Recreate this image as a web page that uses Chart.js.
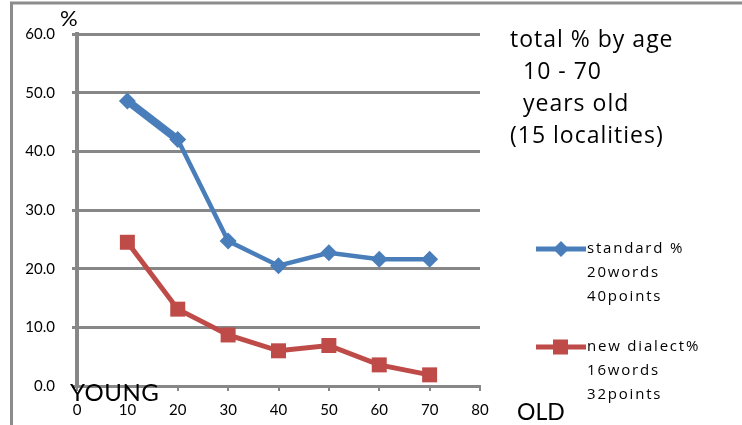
<!DOCTYPE html>
<html>
<head>
<meta charset="utf-8">
<script src="https://cdn.jsdelivr.net/npm/chart.js@4.4.1/dist/chart.umd.min.js"></script>
<style>
  html, body { margin: 0; padding: 0; background: #fff; }
  canvas { display: block; }
</style>
</head>
<body>
<canvas id="c" width="742" height="425"></canvas>
<script>
// Share of answers by speaker age
const ages = [10, 20, 30, 40, 50, 60, 70];
const standardPct = [48.6, 42.0, 24.7, 20.5, 22.7, 21.6, 21.6];
const newDialectPct = [24.5, 13.1, 8.7, 6.0, 6.9, 3.6, 1.9];
const yTickValues = [0, 10, 20, 30, 40, 50, 60];
const xTickValues = [0, 10, 20, 30, 40, 50, 60, 70, 80];
const titleLines = ['total % by age', ' 10 - 70', ' years old', '(15 localities)'];
const standardLegend = ['standard %', '20words', '40points'];
const dialectLegend = ['new dialect%', '16words', '32points'];

const BLUE = '#4a7ebb';
const RED = '#be4b48';
const GRID = '#878787';
const FONT = 'Lato, "Open Sans", sans-serif';
const WIDE = '"Open Sans", Lato, sans-serif';

const toPoints = (xs, ys) => xs.map((x, i) => ({ x: x, y: ys[i] }));

function diamond(ctx, x, y, r) {
  ctx.beginPath();
  ctx.moveTo(x, y - r);
  ctx.lineTo(x + r, y);
  ctx.lineTo(x, y + r);
  ctx.lineTo(x - r, y);
  ctx.closePath();
  ctx.fill();
}

function spaced(ctx, px) {
  if ('letterSpacing' in ctx) ctx.letterSpacing = px + 'px';
}

// Outer frame, side texts and legend
const decorations = {
  id: 'decorations',
  beforeDraw(chart) {
    const ctx = chart.ctx;
    ctx.save();
    ctx.fillStyle = '#fff';
    ctx.fillRect(0, 0, chart.width, chart.height);
    ctx.strokeStyle = '#8c8c8c';
    ctx.lineWidth = 3;
    ctx.beginPath();
    ctx.moveTo(11.5, 425);
    ctx.lineTo(11.5, 3);
    ctx.lineTo(742, 3);
    ctx.stroke();
    ctx.restore();
  },
  afterDraw(chart) {
    const ctx = chart.ctx;
    ctx.save();
    ctx.fillStyle = '#000';
    ctx.textBaseline = 'alphabetic';
    ctx.textAlign = 'left';

    // axis captions
    ctx.font = '22px ' + FONT;
    ctx.fillText('%', 60, 26);
    ctx.font = '24px ' + FONT;
    spaced(ctx, 0.5);
    ctx.fillText('YOUNG', 70, 401);
    spaced(ctx, 0);
    ctx.font = '23px ' + FONT;
    ctx.fillText('OLD', 517, 420);

    // title block
    ctx.font = '23px ' + WIDE;
    spaced(ctx, 1);
    const tb = [47, 79, 111, 143];
    titleLines.forEach((t, i) => {
      const x = t.startsWith(' ') ? 523 : 510;
      ctx.fillText(t.trim(), x, tb[i]);
    });

    // legend
    const items = [
      { color: RED, marker: 'square', lineY: 347, lines: dialectLegend, base: 351 },
      { color: BLUE, marker: 'diamond', lineY: 249, lines: standardLegend, base: 253 }
    ];
    items.forEach(it => {
      spaced(ctx, 0);
      ctx.strokeStyle = it.color;
      ctx.lineWidth = 5;
      ctx.beginPath();
      ctx.moveTo(536, it.lineY);
      ctx.lineTo(586, it.lineY);
      ctx.stroke();
      ctx.fillStyle = it.color;
      if (it.marker === 'diamond') {
        diamond(ctx, 561, it.lineY, 8);
      } else {
        ctx.fillRect(553, it.lineY - 7.5, 15, 15);
      }
      ctx.fillStyle = '#000';
      ctx.font = '15px ' + WIDE;
      spaced(ctx, 1.8);
      it.lines.forEach((t, i) => ctx.fillText(t, 587, it.base + i * 24));
    });
    ctx.restore();
  }
};

new Chart(document.getElementById('c'), {
  type: 'line',
  data: {
    datasets: [
      {
        label: 'standard %',
        data: toPoints(ages, standardPct),
        borderColor: BLUE,
        backgroundColor: BLUE,
        borderWidth: 4.5,
        segment: { borderWidth: c => (c.p0DataIndex === 0 ? 8 : 4.5) },
        pointStyle: 'rectRot',
        pointRadius: 8.5,
        pointHoverRadius: 8.5,
        pointBorderWidth: 0,
        tension: 0,
        fill: false
      },
      {
        label: 'new dialect%',
        data: toPoints(ages, newDialectPct),
        borderColor: RED,
        backgroundColor: RED,
        borderWidth: 5,
        pointStyle: 'rect',
        pointRadius: 10.6,
        pointHoverRadius: 10.6,
        pointBorderWidth: 0,
        tension: 0,
        fill: false
      }
    ]
  },
  options: {
    responsive: false,
    animation: false,
    events: [],
    layout: { padding: { top: 34, right: 262, left: 0, bottom: 0 } },
    plugins: { legend: { display: false }, tooltip: { enabled: false } },
    scales: {
      x: {
        type: 'linear',
        min: 0,
        max: 80,
        afterBuildTicks: s => { s.ticks = xTickValues.map(v => ({ value: v })); },
        afterFit: s => { s.height = 39; },
        grid: {
          drawOnChartArea: false,
          drawTicks: true,
          tickLength: 5,
          color: GRID,
          lineWidth: 2
        },
        border: { display: true, color: GRID, width: 3 },
        ticks: {
          color: '#000',
          font: { family: FONT, size: 15 },
          padding: 10,
          maxRotation: 0,
          autoSkip: false,
          callback: v => String(v)
        }
      },
      y: {
        min: 0,
        max: 60,
        afterBuildTicks: s => { s.ticks = yTickValues.map(v => ({ value: v })); },
        afterFit: s => { s.width = 77; },
        grid: {
          color: GRID,
          lineWidth: 3,
          drawTicks: true,
          tickLength: 5
        },
        border: { display: true, color: GRID, width: 4 },
        ticks: {
          color: '#000',
          font: { family: FONT, size: 15 },
          padding: 17,
          callback: v => v.toFixed(1)
        }
      }
    }
  },
  plugins: [decorations]
});
</script>
</body>
</html>
